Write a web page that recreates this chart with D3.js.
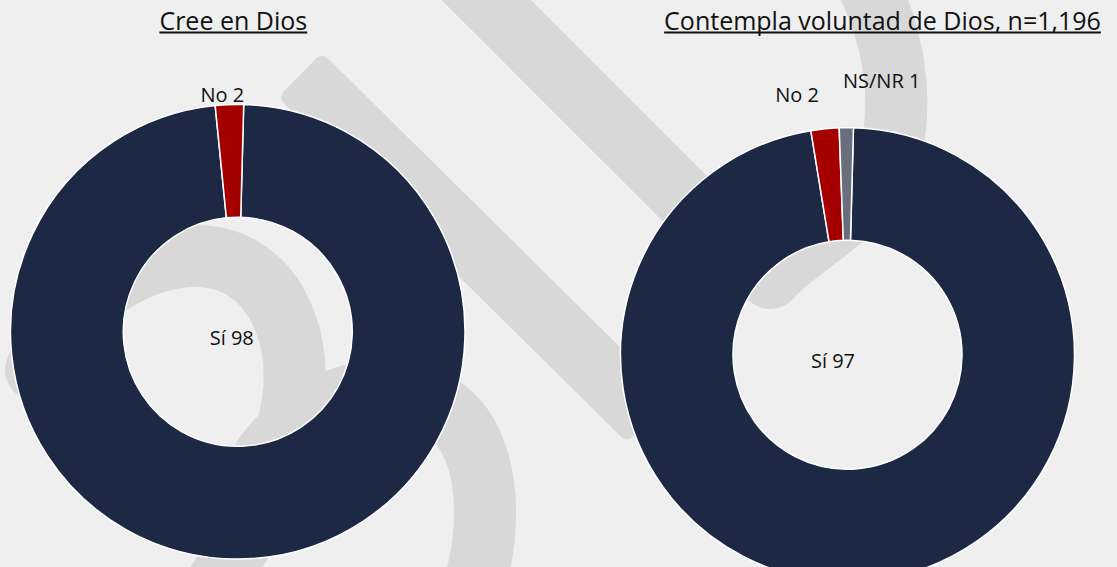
<!DOCTYPE html>
<html>
<head>
<meta charset="utf-8">
<script src="https://cdn.jsdelivr.net/npm/d3@7"></script>
<style>
  html, body { margin: 0; padding: 0; background: #efefef; }
  svg { display: block; }
  text { font-family: "Open Sans", sans-serif; fill: #111; }
</style>
</head>
<body>
<svg id="chart" width="1117" height="567"></svg>
<script>
// datos de las dos gráficas
const titulos = ["Cree en Dios", "Contempla voluntad de Dios, n=1,196"]
const creeCategorias = ["Sí", "No"]
const creeValores = [98, 2]
const voluntadCategorias = ["Sí", "No", "NS/NR"]
const voluntadValores = [97, 2, 1]

const colores = d3.scaleOrdinal()
    .domain(["Sí", "No", "NS/NR"])
    .range(["#1c2844", "#a50000", "#6a6d7d"])

let width = 1117
let height = 567
let svg = d3.select("#chart")

// marca de agua (fondo)
let marca = svg.append("g").attr("class", "watermark")
let grisMarca = "#d8d8d8"

function banda(x0, y0, x1, y1, w) {
    let len = Math.hypot(x1 - x0, y1 - y0)
    let ang = Math.atan2(y1 - y0, x1 - x0) * 180 / Math.PI
    marca.append("rect")
        .attr("x", 0).attr("y", -w / 2)
        .attr("width", len).attr("height", w)
        .attr("rx", 8)
        .attr("fill", grisMarca)
        .attr("transform", "translate(" + x0 + "," + y0 + ") rotate(" + ang + ")")
}
banda(300, 75, 649, 420, 63)
banda(436, -50, 723, 237, 63)

let curvas = [
    "M 840,-60 C 900,20 910,120 880,180 C 845,225 795,250 770,278",
    "M 36,370 C 80,280 170,240 230,262 C 285,285 300,350 293,400 C 285,460 265,510 200,610",
    "M 250,480 C 300,380 430,360 470,440 C 490,480 490,540 470,600"
]
marca.selectAll("path")
    .data(curvas)
    .enter().append("path")
    .attr("d", d => d)
    .attr("fill", "none")
    .attr("stroke", grisMarca)
    .attr("stroke-width", 62)
    .attr("stroke-linecap", "round")

// posiciones de cada dona
let layout = [
    { cx: 237.75, cy: 331.75, R: 227.25, r: 114.5, titleX: 233.3,
      labelPos: [[-6, 13.5], [-15.5, -230]] },
    { cx: 847.5, cy: 354.7, R: 227, r: 114.5, titleX: 882.5,
      labelPos: [[-14.5, 13.5], [-50.5, -253], [34.2, -266.4]] }
]

let series = [
    creeCategorias.map((c, i) => ({ cat: c, value: creeValores[i] })),
    voluntadCategorias.map((c, i) => ({ cat: c, value: voluntadValores[i] }))
]

let offset = 1.5 * Math.PI / 180

function drawDonut(datos, lay, titulo) {
    let g = svg.append("g")
        .attr("transform", "translate(" + lay.cx + "," + lay.cy + ")")

    let pie = d3.pie()
        .sort(null)
        .value(d => d.value)
        .startAngle(offset)
        .endAngle(offset + 2 * Math.PI)

    let arc = d3.arc()
        .innerRadius(lay.r)
        .outerRadius(lay.R)

    g.selectAll("path")
        .data(pie(datos))
        .enter().append("path")
        .attr("d", arc)
        .attr("fill", d => colores(d.data.cat))
        .attr("stroke", "#ffffff")
        .attr("stroke-width", 1.5)

    // etiquetas
    g.selectAll("text.label")
        .data(datos)
        .enter().append("text")
        .attr("class", "label")
        .attr("x", (d, i) => lay.labelPos[i][0])
        .attr("y", (d, i) => lay.labelPos[i][1])
        .attr("text-anchor", "middle")
        .style("font-size", "20px")
        .text(d => d.cat + " " + d.value)

    // titulo subrayado
    let t = svg.append("text")
        .attr("x", lay.titleX)
        .attr("y", 29.5)
        .attr("text-anchor", "middle")
        .style("font-size", "25px")
        .text(titulo)
    let tw = t.node().getComputedTextLength()
    svg.append("line")
        .attr("x1", lay.titleX - tw / 2)
        .attr("x2", lay.titleX + tw / 2)
        .attr("y1", 32.5)
        .attr("y2", 32.5)
        .attr("stroke", "#111")
        .attr("stroke-width", 2)
}

series.forEach((s, i) => drawDonut(s, layout[i], titulos[i]))
</script>
</body>
</html>
